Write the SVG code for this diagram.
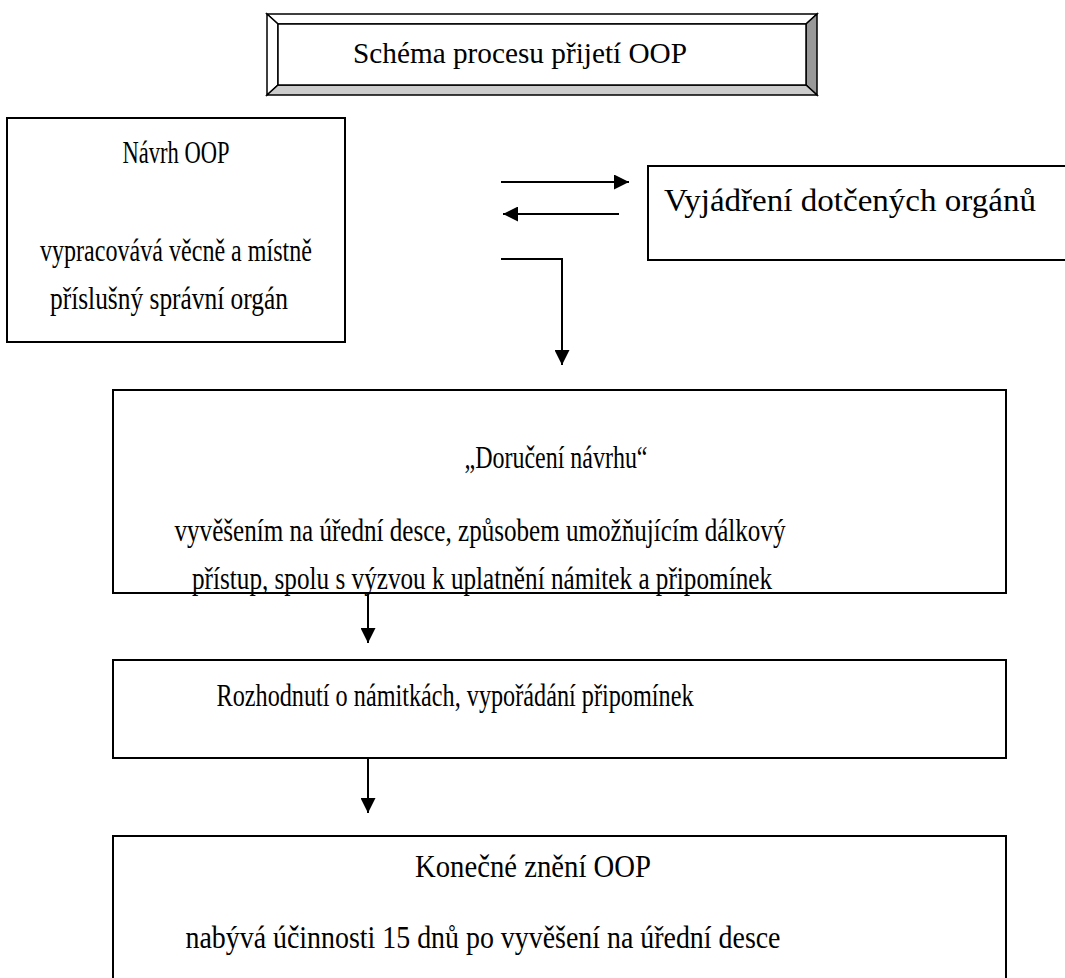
<svg xmlns="http://www.w3.org/2000/svg" width="1065" height="978" viewBox="0 0 1065 978">
<style>
.box{fill:#fff;stroke:#000;stroke-width:2}
.t{font-family:"Liberation Serif","DejaVu Serif",serif;font-size:32px;fill:#000;text-anchor:middle}
.ln{stroke:#000;stroke-width:2;fill:none}
.bv{stroke:#000;stroke-width:1.5}
</style>
<defs>
<marker id="ah" viewBox="0 0 10 10" refX="10" refY="5" markerWidth="15" markerHeight="15" markerUnits="userSpaceOnUse" orient="auto">
<path d="M0,0 L10,5 L0,10 Z" fill="#000"/>
</marker>
</defs>
<rect width="1065" height="978" fill="#fff"/>
<g id="title">
<polygon class="bv" points="267,14 817,14 806,24 278,24" fill="#fff"/>
<polygon class="bv" points="267,14 278,24 278,85 267,95" fill="#fff"/>
<polygon class="bv" points="817,14 817,95 806,85 806,24" fill="#999"/>
<polygon class="bv" points="267,95 278,85 806,85 817,95" fill="#ccc"/>
<rect class="bv" x="278" y="24" width="528" height="61" fill="#fff"/>
<text class="t" x="520" y="63" style="font-size:29px" textLength="334" lengthAdjust="spacingAndGlyphs">Schéma procesu přijetí OOP</text>
</g>
<g id="navrh">
<rect class="box" x="7" y="118" width="338" height="224"/>
<text class="t" x="176" y="163" textLength="107" lengthAdjust="spacingAndGlyphs">Návrh OOP</text>
<text class="t" x="176" y="261" textLength="272" lengthAdjust="spacingAndGlyphs">vypracovává věcně a místně</text>
<text class="t" x="169" y="309" textLength="238" lengthAdjust="spacingAndGlyphs">příslušný správní orgán</text>
</g>
<g id="vyjadreni">
<rect class="box" x="648" y="166" width="430" height="94"/>
<text class="t" x="850" y="211" textLength="372" lengthAdjust="spacingAndGlyphs">Vyjádření dotčených orgánů</text>
</g>
<g id="doruceni">
<rect class="box" x="113" y="390" width="893" height="203"/>
<text class="t" x="556" y="468" textLength="183" lengthAdjust="spacingAndGlyphs">„Doručení návrhu“</text>
<text class="t" x="480" y="541" textLength="611" lengthAdjust="spacingAndGlyphs">vyvěšením na úřední desce, způsobem umožňujícím dálkový</text>
<text class="t" x="482" y="589" textLength="580" lengthAdjust="spacingAndGlyphs">přístup, spolu s výzvou k uplatnění námitek a připomínek</text>
</g>
<g id="rozhodnuti">
<rect class="box" x="113" y="660" width="893" height="98"/>
<text class="t" x="455" y="706" textLength="477" lengthAdjust="spacingAndGlyphs">Rozhodnutí o námitkách, vypořádání připomínek</text>
</g>
<g id="konecne">
<rect class="box" x="113" y="836" width="893" height="160"/>
<text class="t" x="533" y="877" textLength="236" lengthAdjust="spacingAndGlyphs">Konečné znění OOP</text>
<text class="t" x="483" y="948" textLength="595" lengthAdjust="spacingAndGlyphs">nabývá účinnosti 15 dnů po vyvěšení na úřední desce</text>
</g>
<g id="connectors">
<line class="ln" x1="501" y1="182" x2="629" y2="182" marker-end="url(#ah)"/>
<line class="ln" x1="619" y1="214" x2="503" y2="214" marker-end="url(#ah)"/>
<polyline class="ln" points="501,259 562,259 562,365" marker-end="url(#ah)"/>
<line class="ln" x1="368" y1="593" x2="368" y2="643" marker-end="url(#ah)"/>
<line class="ln" x1="368" y1="758" x2="368" y2="813" marker-end="url(#ah)"/>
</g>
</svg>
